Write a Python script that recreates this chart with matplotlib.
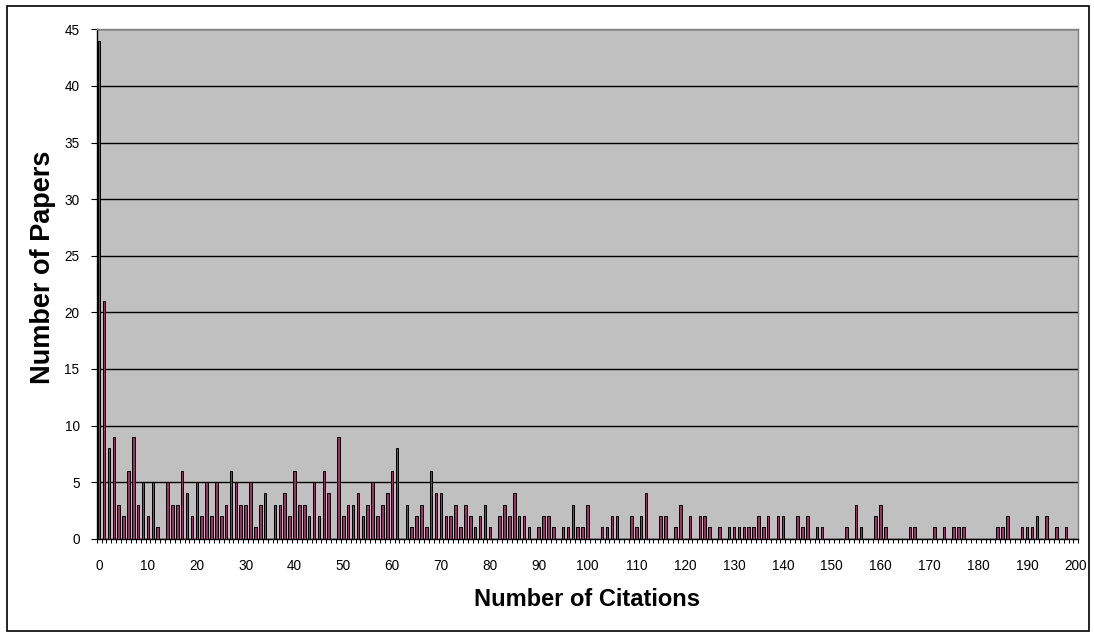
import numpy as np
import matplotlib
matplotlib.use("Agg")
import matplotlib.pyplot as plt
from matplotlib.patches import Rectangle

plt.rcParams['font.family'] = ['Liberation Sans', 'DejaVu Sans']

# Citation counts (categories) and how many papers received each count
citations = list(range(0, 201))
papers = [
    44, 21, 8, 9, 3, 2, 6, 9, 3, 5,      # 0-9
    2, 5, 1, 0, 5, 3, 3, 6, 4, 2,        # 10-19
    5, 2, 5, 2, 5, 2, 3, 6, 5, 3,        # 20-29
    3, 5, 1, 3, 4, 0, 3, 3, 4, 2,        # 30-39
    6, 3, 3, 2, 5, 2, 6, 4, 0, 9,        # 40-49
    2, 3, 3, 4, 2, 3, 5, 2, 3, 4,        # 50-59
    6, 8, 0, 3, 1, 2, 3, 1, 6, 4,        # 60-69
    4, 2, 2, 3, 1, 3, 2, 1, 2, 3,        # 70-79
    1, 0, 2, 3, 2, 4, 2, 2, 1, 0,        # 80-89
    1, 2, 2, 1, 0, 1, 1, 3, 1, 1,        # 90-99
    3, 0, 0, 1, 1, 2, 2, 0, 0, 2,        # 100-109
    1, 2, 4, 0, 0, 2, 2, 0, 1, 3,        # 110-119
    0, 2, 0, 2, 2, 1, 0, 1, 0, 1,        # 120-129
    1, 1, 1, 1, 1, 2, 1, 2, 0, 2,        # 130-139
    2, 0, 0, 2, 1, 2, 0, 1, 1, 0,        # 140-149
    0, 0, 0, 1, 0, 3, 1, 0, 0, 2,        # 150-159
    3, 1, 0, 0, 0, 0, 1, 1, 0, 0,        # 160-169
    0, 1, 0, 1, 0, 1, 1, 1, 0, 0,        # 170-179
    0, 0, 0, 0, 1, 1, 2, 0, 0, 1,        # 180-189
    1, 1, 2, 0, 2, 0, 1, 0, 1, 0,        # 190-199
    0,                                   # 200
]
x_tick_values = list(range(0, 201, 10))
y_tick_values = list(range(0, 46, 5))

W, H = 1094, 632
fig = plt.figure(figsize=(W / 100, H / 100), dpi=100)
fig.patch.set_facecolor('white')

ax = fig.add_axes([96.7 / W, 1 - 538.7 / H, (1078.3 - 96.7) / W, (538.7 - 29.3) / H])
ax.set_facecolor('#C0C0C0')

ax.bar(citations, papers, width=0.52, color='#993366', edgecolor='black',
       linewidth=0.7, zorder=3)

ax.set_xlim(-0.5, 200.5)
ax.set_ylim(0, 45)

# horizontal gridlines
ax.set_yticks(y_tick_values)
ax.yaxis.grid(True, color='black', linewidth=1.0, zorder=1)
ax.set_axisbelow(True)
ax.tick_params(axis='y', direction='out', length=4.3, width=0.8, color='black',
               pad=8, labelsize=9.8)

# category labels every 10, small tick marks between every category
ax.set_xticks(x_tick_values)
ax.set_xticklabels([str(v) for v in x_tick_values])
ax.set_xticks(np.arange(-0.5, 201, 1.0), minor=True)
ax.tick_params(axis='x', which='major', length=0, pad=14.5, labelsize=9.8)
ax.tick_params(axis='x', which='minor', direction='out', length=3, width=0.7,
               color='black')

for side in ('left', 'bottom'):
    ax.spines[side].set_color('black')
    ax.spines[side].set_linewidth(1.0)
for side in ('top', 'right'):
    ax.spines[side].set_color('#808080')
    ax.spines[side].set_linewidth(1.0)

fig.text(43 / W, 1 - 267 / H, 'Number of Papers', rotation=90, fontsize=19.5,
         fontweight='bold', ha='center', va='center')
fig.text(587 / W, 1 - 600 / H, 'Number of Citations', fontsize=17,
         fontweight='bold', ha='center', va='center')

# chart frame
fig.patches.append(Rectangle((7 / W, 1 - 631 / H), (1089 - 7) / W, (631 - 6) / H,
                             transform=fig.transFigure, fill=False,
                             edgecolor='black', linewidth=1.2))

fig.savefig('out.png', dpi=100, facecolor='white')
